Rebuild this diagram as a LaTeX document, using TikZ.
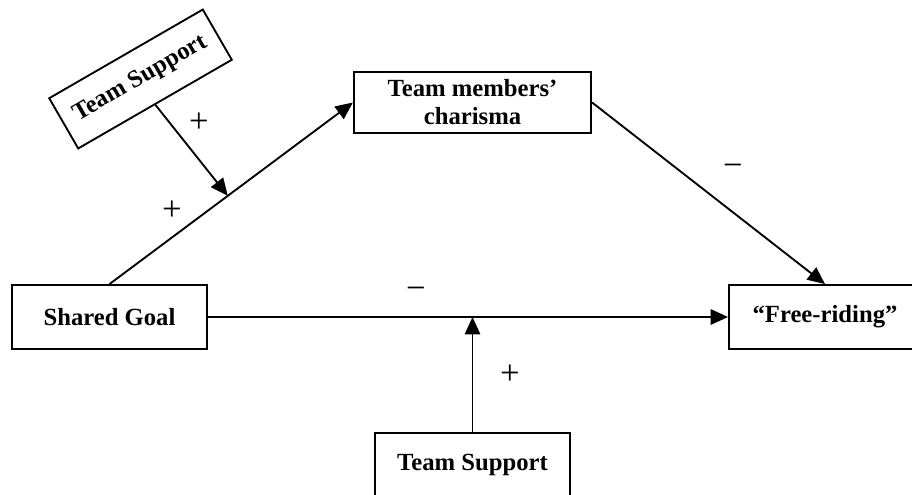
\documentclass[tikz,border=0pt]{standalone}
\usepackage{fontspec}
\setmainfont{Liberation Serif}
\usepackage{tikz}
\usetikzlibrary{shapes.geometric, arrows.meta}
\tikzstyle{block} = [rectangle, minimum width=146pt, minimum height=48pt, text centered, draw=black, line width=1.4pt, fill=white, font=\bfseries\fontsize{18.5}{21}\selectfont, inner sep=0pt]
\tikzstyle{arrow} = [line width=1.4pt,-{Triangle[length=13pt,width=11.5pt]}]
\tikzstyle{sign} = [font=\fontsize{26}{28}\selectfont, inner sep=0pt]

\begin{document}
\begin{tikzpicture}[x=0.75pt, y=-0.75pt]
	\useasboundingbox (0,0) rectangle (912,495);
	\node (sg) [block] at (109.5,317) {Shared Goal};
	\node (tm) [block, minimum width=178pt, minimum height=46pt, align=center] at (472.5,102.5) {Team members’\\charisma};
	\node (fr) [block, minimum width=144pt] at (825,317) {“Free-riding”};
	\node (ts1) [block, minimum width=133pt, minimum height=43.5pt, rotate=30] at (140.5,79) {Team Support};
	\node (ts2) [block] at (472.5,465) {Team Support};

	\node (p1) [sign] at (199,123) {+};
	\node (p2) [sign] at (172,211) {+};
	\node (p3) [sign] at (510,375) {+};
	\node (m1) [sign] at (416,293) {−};
	\node (m2) [sign] at (733,170) {−};

	\draw [arrow] (sg.north) -- coordinate[pos=0.486] (j1) (tm.west);
	\draw [arrow] (tm.east) -- (fr.north);
	\draw [arrow] (sg.east) -- (fr.west);
	\draw [arrow] (ts1.south) -- (j1);
	\draw [arrow] (ts2.north) -- (ts2.north |- sg.east);
\end{tikzpicture}
\end{document}
